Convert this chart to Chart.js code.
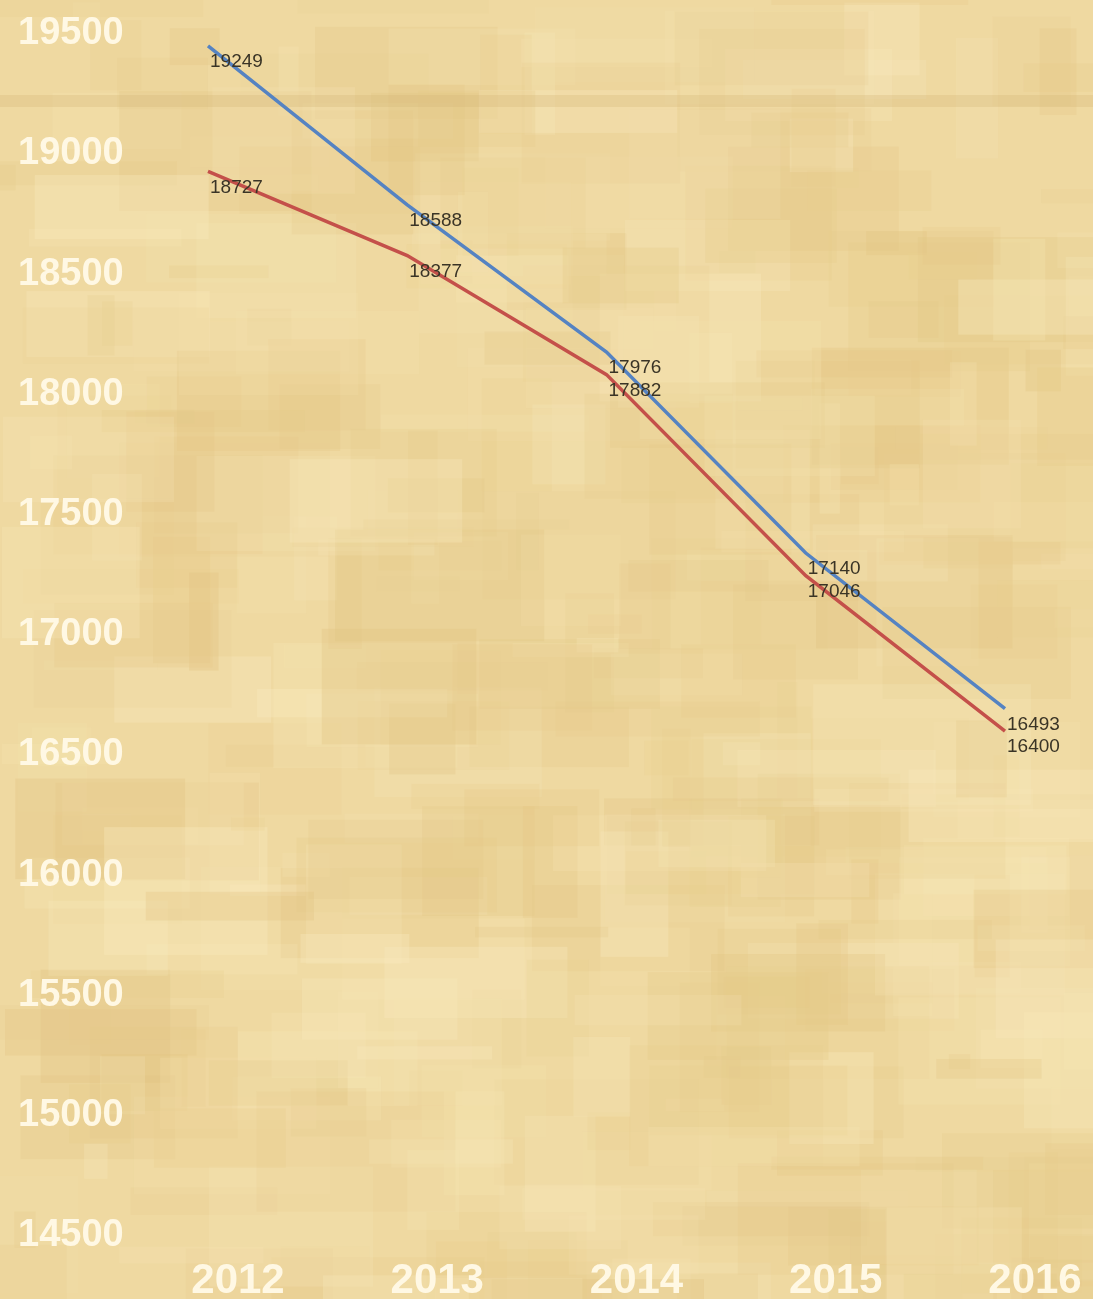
<!DOCTYPE html>
<html>
<head>
<meta charset="utf-8">
<script src="https://cdn.jsdelivr.net/npm/chart.js@4.4.0/dist/chart.umd.min.js"></script>
<style>
  html, body { margin: 0; padding: 0; background: #efd9a1; }
  #wrap { width: 1093px; height: 1299px; position: relative; }
</style>
</head>
<body>
<div id="wrap"><canvas id="lineChart"></canvas></div>
<script>
// chart data
const years = ["2012", "2013", "2014", "2015", "2016"];
const blueValues = [19249, 18588, 17976, 17140, 16493];
const redValues = [18727, 18377, 17882, 17046, 16400];
const yTicks = [14500, 15000, 15500, 16000, 16500, 17000, 17500, 18000, 18500, 19000, 19500];

// papyrus-like blocky background, fixed seed so it is the same every time
const paperBackground = {
  id: 'paperBackground',
  beforeDraw(chart) {
    const ctx = chart.ctx;
    const w = chart.width, h = chart.height;
    ctx.save();
    ctx.fillStyle = '#efd9a1';
    ctx.fillRect(0, 0, w, h);
    let seed = 7;
    function rnd() {
      seed = (seed * 16807) % 2147483647;
      return seed / 2147483647;
    }
    const tones = ['#f6e5b4', '#e9cf90', '#f3e0ad', '#e6ca8a', '#f8eabf', '#e2c482'];
    for (let i = 0; i < 420; i++) {
      const bw = 20 + rnd() * 200;
      const bh = 10 + rnd() * 120;
      ctx.globalAlpha = 0.15 + rnd() * 0.2;
      ctx.fillStyle = tones[Math.floor(rnd() * tones.length)];
      ctx.fillRect(rnd() * w - 20, rnd() * h - 10, bw, bh);
    }
    // darker band near top
    ctx.globalAlpha = 0.3;
    ctx.fillStyle = '#d4b676';
    ctx.fillRect(0, 95, w, 12);
    ctx.restore();
  }
};

// value labels written under each point
const valueLabels = {
  id: 'valueLabels',
  afterDatasetsDraw(chart) {
    const ctx = chart.ctx;
    ctx.save();
    ctx.font = '19px "Liberation Sans"';
    ctx.fillStyle = '#3a3426';
    ctx.textAlign = 'left';
    ctx.textBaseline = 'middle';
    chart.data.datasets.forEach((ds, i) => {
      chart.getDatasetMeta(i).data.forEach((pt, j) => {
        ctx.fillText(String(ds.data[j]), pt.x + 2, pt.y + 16);
      });
    });
    ctx.restore();
  }
};

new Chart(document.getElementById('lineChart'), {
  type: 'line',
  data: {
    labels: years,
    datasets: [{
      label: 'Blue',
      data: blueValues,
      borderColor: '#5583c2',
      borderWidth: 3.5,
      pointRadius: 0,
      tension: 0,
      fill: false
    }, {
      label: 'Red',
      data: redValues,
      borderColor: '#c4504a',
      borderWidth: 3.5,
      pointRadius: 0,
      tension: 0,
      fill: false
    }]
  },
  options: {
    responsive: true,
    maintainAspectRatio: false,
    animation: false,
    layout: { padding: { left: 18, right: 88, top: 0, bottom: 0 } },
    plugins: {
      legend: { display: false },
      tooltip: { enabled: false }
    },
    scales: {
      x: {
        offset: false,
        grid: { display: false },
        border: { display: false },
        ticks: {
          color: '#fff8e4',
          font: { family: '"Liberation Sans"', size: 42, weight: 'bold' },
          labelOffset: 30,
          padding: 0,
          maxRotation: 0
        },
        afterFit(scale) {
          scale.height = 51;
          scale.paddingLeft = 0;
          scale.paddingRight = 0;
        }
      },
      y: {
        min: 14250,
        max: 19440,
        grid: { display: false },
        border: { display: false },
        afterBuildTicks(scale) {
          scale.ticks = yTicks.map(v => ({ value: v }));
        },
        afterFit(scale) {
          scale.width = 190;
          scale.paddingTop = 0;
          scale.paddingBottom = 0;
        },
        ticks: {
          color: '#fff8e4',
          font: { family: '"Liberation Sans"', size: 38, weight: 'bold' },
          crossAlign: 'far',
          labelOffset: 48,
          callback: v => String(v)
        }
      }
    }
  },
  plugins: [paperBackground, valueLabels]
});
</script>
</body>
</html>
